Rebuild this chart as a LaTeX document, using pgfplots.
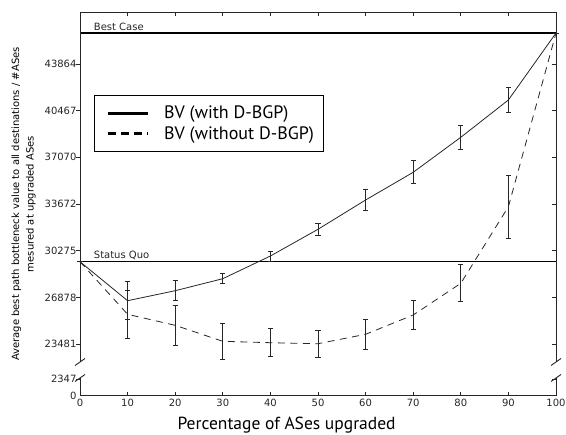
\documentclass[border=0pt]{standalone}
\usepackage{fontspec}
\setmainfont{DejaVu Sans}
\newfontfamily\legfont{PT Sans}
\usepackage{pgfplots}
\usepackage{pgfplotstable}
\pgfplotsset{compat=1.18}
\usetikzlibrary{calc}

% percentage upgraded, mean, error (broken y axis: values below 22000 are
% drawn in a compressed band, see ytick list)
\pgfplotstableread{
x   y     e
0   29474 0
10  26635 1383
20  27363 713
30  28237 350
40  29889 364
50  31833 450
60  33966 779
70  35982 837
80  38531 874
90  41246 932
100 46120 0
}\withdbgp
\pgfplotstableread{
x   y     e
0   29474 0
10  25645 1769
20  24844 1441
30  23679 1310
40  23577 1019
50  23505 983
60  24189 1092
70  25594 1041
80  27902 1359
90  33478 2293
100 46120 0
}\withoutdbgp

\begin{document}
\begin{tikzpicture}
  \begin{axis}[
    name=ax,
    scale only axis, width=476pt, height=383.4pt,
    xmin=0, xmax=100, ymin=19720, ymax=47628,
    xtick={0,10,...,100},
    ytick={19720,20914,23481,26878,30275,33672,37070,40467,43864},
    yticklabels={0,2347,23481,26878,30275,33672,37070,40467,43864},
    ytick pos=right, yticklabel pos=left,
    xtick pos=both,
    tick align=inside,
    major tick length=4pt,
    tick style={black!85, line width=0.8pt},
    separate axis lines,
    x axis line style={black!85, line width=0.9pt},
    y axis line style={draw=none},
    ticklabel style={font=\fontsize{10}{12}\selectfont, black!85},
    /pgf/number format/assume math mode=true,
    scaled y ticks=false,
    clip=false,
    xlabel={Percentage of ASes upgraded},
    xlabel style={font=\legfont\fontsize{17.5}{20}\selectfont,
                  at={(axis description cs:0.434,0)}, anchor=base, yshift=-33.5pt},
    ylabel={Average best path bottleneck value to all destinations / \#ASes\\mesured at upgraded ASes},
    ylabel style={font=\fontsize{10}{14.5}\selectfont, align=center,
                  at={(axis description cs:0,0.5)}, anchor=center, yshift=56.5pt},
    legend image code/.code={\path[draw=none] (0pt,0pt) -- (60pt,0pt);
                             \draw[#1] (6pt,0pt) -- (46pt,0pt);},
    legend cell align=left,
    legend style={at={(axis description cs:0.0288,0.784)}, anchor=north west,
                  draw=black, line width=1pt,
                  font=\legfont\fontsize{18}{20}\selectfont,
                  inner xsep=8pt, inner ysep=8.5pt, row sep=2pt},
  ]
    \addlegendimage{black, line width=2.6pt}
    \addlegendentry{BV (with D-BGP)}
    \addlegendimage{black, line width=2.6pt, dash pattern=on 8pt off 5pt}
    \addlegendentry{BV (without D-BGP)}

    % reference levels
    \addplot[black, line width=1.1pt, forget plot] coordinates {(0,46120) (100,46120)};
    \addplot[black, line width=1.1pt, forget plot] coordinates {(0,29474) (100,29474)};
    \node[anchor=base west, inner sep=0pt, font=\fontsize{10}{12}\selectfont, black!85]
      at (axis cs:2.88,46120) [yshift=3pt] {Best Case};
    \node[anchor=base west, inner sep=0pt, font=\fontsize{10}{12}\selectfont, black!85]
      at (axis cs:2.88,29474) [yshift=3.4pt] {Status Quo};

    \addplot[black!85, line width=0.8pt, forget plot,
      error bars/.cd, y dir=both, y explicit,
      error bar style={black!85, line width=1pt},
      error mark options={rotate=90, mark size=2.6pt, line width=1pt, black!85}]
      table[x=x, y=y, y error=e] {\withdbgp};
    \addplot[black!85, line width=0.8pt, dash pattern=on 7pt off 5.5pt, forget plot,
      error bars/.cd, y dir=both, y explicit,
      error bar style={black!85, line width=1pt, solid},
      error mark options={rotate=90, mark size=2.6pt, line width=1pt, black!85, solid}]
      table[x=x, y=y, y error=e] {\withoutdbgp};

    % broken left/right spines with break marks
    \draw[black!85, line width=0.9pt] (rel axis cs:0,1) -- (axis cs:0,22173);
    \draw[black!85, line width=0.9pt] (axis cs:0,21009) -- (rel axis cs:0,0);
    \draw[black!85, line width=0.9pt] (rel axis cs:1,1) -- (axis cs:100,22173);
    \draw[black!85, line width=0.9pt] (axis cs:100,21009) -- (rel axis cs:1,0);
    \draw[black!85, line width=0.9pt] (axis cs:0,22173) ++(-5pt,-3.5pt) -- ++(10pt,7pt);
    \draw[black!85, line width=0.9pt] (axis cs:0,21009) ++(-5pt,-3.5pt) -- ++(10pt,7pt);
    \draw[black!85, line width=0.9pt] (axis cs:100,22173) ++(-5pt,-3.5pt) -- ++(10pt,7pt);
    \draw[black!85, line width=0.9pt] (axis cs:100,21009) ++(-5pt,-3.5pt) -- ++(10pt,7pt);
    % outward ticks on the left spine
    \pgfplotsinvokeforeach{20914,23481,26878,30275,33672,37070,40467,43864}{
      \draw[black!85, line width=0.8pt] (axis cs:0,#1) -- ++(-3.5pt,0pt);
    }
  \end{axis}
  \pgfresetboundingbox
  \path ([shift={(-80pt,-38.3pt)}]ax.south west) rectangle ([shift={(10pt,12.3pt)}]ax.north east);
\end{tikzpicture}
\end{document}
